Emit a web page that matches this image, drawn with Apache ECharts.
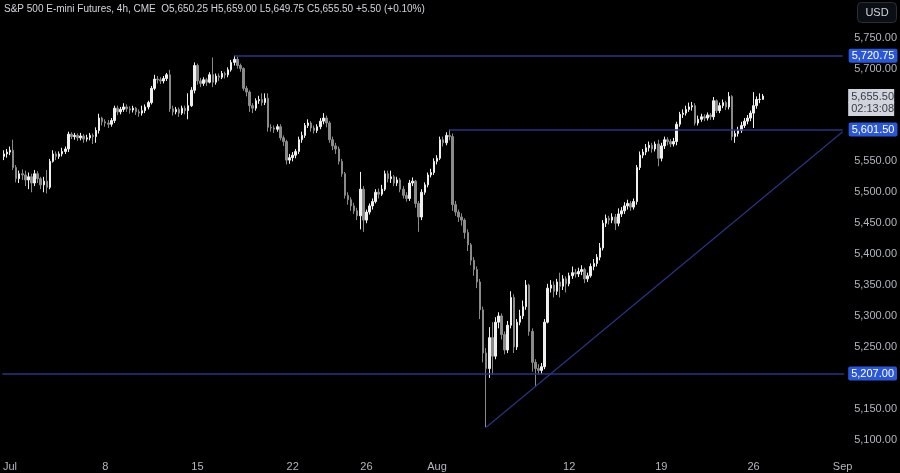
<!DOCTYPE html>
<html>
<head>
<meta charset="utf-8">
<script src="https://cdn.jsdelivr.net/npm/echarts@6/dist/echarts.min.js"></script>
<style>
html,body{margin:0;padding:0;background:#000;}
#c{width:900px;height:473px;}
</style>
</head>
<body>
<div id="c"></div>
<script>
// ---- data (4h candles, [open, close, low, high]) ----
const titleText = 'S&P 500 E-mini Futures, 4h, CME  O5,650.25 H5,659.00 L5,649.75 C5,655.50 +5.50 (+0.10%)';
const slotCount = 274;
const tickIndex = [2, 33, 63, 94, 118, 141, 184, 214, 244, 273];
const tickText = ['Jul', '8', '15', '22', '26', 'Aug', '12', '19', '26', 'Sep'];
const priceTicks = [5100, 5150, 5250, 5300, 5350, 5400, 5450, 5500, 5550, 5700, 5750];
const resistanceHigh = 5720.75;
const resistanceMid = 5601.5;
const supportLow = 5207;
const highStartIndex = 75;
const midStartIndex = 145;
const trendStart = [157, 5120];
const trendEnd = [273, 5598];
const lastPrice = 5655.5;
const countdown = '02:13:08';

const candlesJuly = [
[5558,5562,5552,5568],[5562,5565,5556,5570],[5565,5568,5560,5574],[5568,5540,5536,5585],
[5540,5522,5516,5544],[5522,5530,5515,5535],[5530,5528,5520,5537],[5528,5520,5510,5535],
[5520,5525,5505,5532],[5525,5515,5500,5530],[5515,5530,5510,5536],[5530,5522,5515,5534],
[5522,5512,5505,5525],[5512,5518,5500,5525],[5518,5508,5498,5536],[5508,5550,5505,5554],
[5550,5562,5548,5568],[5562,5558,5552,5566],[5558,5562,5554,5566],[5562,5566,5558,5572],
[5566,5570,5562,5574],[5570,5594,5565,5598],[5594,5590,5586,5597],[5590,5592,5585,5596],
[5592,5588,5583,5595],[5588,5591,5584,5596],[5591,5586,5580,5594],[5586,5588,5582,5593],
[5588,5592,5584,5596],[5592,5590,5578,5595],[5590,5600,5580,5605],[5600,5620,5595,5627],
[5620,5614,5608,5622],[5614,5612,5606,5618],[5612,5610,5604,5617],[5610,5616,5606,5620],
[5616,5636,5612,5640],[5636,5630,5625,5640],[5630,5634,5626,5638],[5634,5638,5630,5644],
[5638,5635,5630,5642],[5635,5633,5627,5639],[5633,5636,5629,5640],[5636,5630,5625,5638],
[5630,5628,5622,5634],[5628,5632,5624,5640],[5632,5638,5628,5642],[5638,5645,5634,5648],
[5645,5668,5642,5672],[5668,5683,5665,5690],[5683,5682,5676,5688],[5682,5680,5675,5686],
[5680,5684,5676,5688],[5684,5690,5680,5693],[5690,5635,5630,5698],[5635,5630,5624,5640],
[5630,5634,5626,5638],[5634,5628,5622,5637],[5628,5636,5625,5640],[5636,5632,5626,5640],
[5632,5640,5618,5660],[5640,5665,5638,5670],[5665,5705,5660,5710],[5705,5680,5674,5708],
[5680,5676,5670,5685],[5676,5682,5672,5686],[5682,5678,5672,5685],[5678,5690,5676,5694],
[5690,5678,5670,5718],[5678,5688,5674,5692],[5688,5686,5680,5692],[5686,5692,5683,5696],
[5692,5690,5684,5695],[5690,5698,5686,5702],[5698,5710,5695,5714],[5710,5715,5705,5720.75],
[5715,5705,5700,5719],[5705,5700,5695,5708],[5700,5668,5664,5702],[5668,5662,5655,5672],
[5662,5640,5630,5665],[5640,5636,5628,5644],[5636,5648,5632,5652],[5648,5650,5643,5656],
[5650,5645,5640,5660],[5645,5652,5641,5660],[5652,5605,5598,5660],[5605,5604,5598,5610],
[5604,5602,5596,5608],[5602,5606,5598,5610],[5606,5588,5584,5610],[5588,5582,5575,5592],
[5582,5552,5545,5585],[5552,5556,5546,5562],[5556,5560,5550,5565],[5560,5566,5555,5570],
[5566,5585,5562,5590],[5585,5592,5580,5598],[5592,5608,5588,5612],[5608,5612,5604,5618],
[5612,5604,5598,5615],[5604,5600,5595,5608],[5600,5606,5596,5610],[5606,5615,5602,5620],
[5615,5620,5610,5628],[5620,5612,5605,5624],[5612,5585,5580,5615],[5585,5575,5568,5590],
[5575,5570,5562,5580],[5570,5550,5545,5574],[5550,5530,5525,5554],[5530,5495,5490,5533],
[5495,5488,5480,5500],[5488,5478,5470,5492],[5478,5470,5465,5483],[5470,5462,5455,5475],
[5462,5505,5440,5533],[5505,5455,5436,5510],[5455,5468,5450,5472],[5468,5478,5464,5482],
[5478,5485,5472,5490],[5485,5500,5482,5505],[5500,5497,5490,5506],[5497,5505,5494,5512],
[5505,5530,5502,5535],[5530,5522,5516,5535],[5522,5525,5515,5535],[5525,5515,5510,5528],
[5515,5520,5510,5525],[5520,5505,5500,5523],[5505,5495,5490,5510],[5495,5490,5485,5500],
[5490,5515,5486,5520],[5515,5518,5510,5524],[5518,5482,5475,5520],[5482,5460,5436,5486],
[5460,5500,5455,5505],[5500,5512,5496,5516],[5512,5528,5508,5532],[5528,5532,5524,5538],
[5532,5550,5528,5555]
];
const candlesAugust = [
[5550,5555,5545,5560],[5555,5585,5552,5590],[5585,5580,5574,5590],[5580,5592,5576,5597],
[5592,5590,5584,5601.5],[5590,5480,5470,5595],[5480,5468,5462,5486],[5468,5460,5452,5472],
[5460,5455,5446,5466],[5455,5435,5425,5458],[5435,5415,5405,5440],[5415,5390,5382,5418],
[5390,5375,5365,5395],[5375,5355,5345,5380],[5355,5310,5295,5360],[5310,5240,5225,5315],
[5240,5215,5120,5248],[5215,5265,5200,5282],[5265,5235,5205,5290],[5235,5290,5230,5298],
[5290,5300,5280,5306],[5300,5270,5262,5304],[5270,5245,5238,5275],[5245,5285,5240,5292],
[5285,5330,5280,5340],[5330,5250,5240,5335],[5250,5290,5245,5295],[5290,5300,5285,5310],
[5300,5315,5295,5325],[5315,5350,5310,5358],[5350,5275,5268,5352],[5275,5225,5210,5280],
[5225,5215,5185,5230],[5215,5212,5205,5222],[5212,5218,5206,5224],[5218,5290,5214,5295],
[5290,5345,5288,5352],[5345,5350,5338,5358],[5350,5340,5330,5356],[5340,5355,5334,5360],
[5355,5348,5330,5370],[5348,5360,5342,5366],[5360,5352,5338,5364],[5352,5365,5348,5370],
[5365,5370,5360,5380],[5370,5368,5362,5376],[5368,5372,5363,5378],[5372,5375,5366,5382],
[5375,5360,5353,5378],[5360,5365,5355,5370],[5365,5380,5362,5385],[5380,5385,5374,5392],
[5385,5395,5380,5400],[5395,5410,5390,5418],[5410,5450,5406,5455],[5450,5458,5444,5464],
[5458,5455,5448,5462],[5455,5460,5450,5466],[5460,5450,5439,5465],[5450,5465,5445,5474],
[5465,5470,5460,5476],[5470,5478,5465,5484],[5478,5482,5472,5488],[5482,5476,5470,5486],
[5476,5485,5472,5490],[5485,5540,5480,5544],[5540,5560,5536,5566],[5560,5565,5555,5570],
[5565,5572,5560,5578],[5572,5576,5566,5582],[5576,5570,5564,5580],[5570,5578,5566,5582],
[5578,5555,5542,5585],[5555,5575,5550,5580],[5575,5585,5570,5590],[5585,5582,5576,5589],
[5582,5578,5573,5586],[5578,5582,5574,5588],[5582,5610,5576,5614],[5610,5626,5606,5630],
[5626,5628,5620,5634],[5628,5634,5624,5640],[5634,5638,5630,5645],[5638,5640,5632,5646],
[5640,5612,5608,5644],[5612,5618,5608,5624],[5618,5622,5614,5627],[5622,5620,5615,5626],
[5620,5625,5616,5629],[5625,5622,5617,5628],[5622,5648,5617,5654],[5648,5632,5628,5650],
[5632,5640,5628,5645],[5640,5645,5636,5650],[5645,5638,5633,5648],[5638,5655,5634,5662],
[5655,5590,5584,5657],[5590,5595,5580,5600],[5595,5600,5590,5606],[5600,5608,5596,5614],
[5608,5615,5604,5620],[5615,5620,5610,5625],[5620,5628,5615,5632],[5628,5640,5604,5662],
[5640,5650,5635,5655],[5650,5650.25,5644,5660],[5650.25,5655.5,5649.75,5659]
];

// ---- build ----
const candles = candlesJuly.concat(candlesAugust);
const categories = [];
for (let i = 0; i < slotCount; i++) categories.push('s' + i);
const tickMap = {};
tickIndex.forEach((k, j) => { tickMap[k] = tickText[j]; });
const fmt = v => Number(v).toLocaleString('en-US', {minimumFractionDigits: 2, maximumFractionDigits: 2});

const LINE = '#2a3484';
const BLUE = '#2b57d4';
const TXT = '#b2b5be';
const FONT = 'Liberation Sans, Arial, sans-serif';

const lineStyle = () => ({color: LINE, width: 1.5, type: 'solid', opacity: 1});
const blueLabel = (value, dist) => ({
  show: true, position: 'end', distance: dist,
  formatter: fmt(value),
  color: '#ffffff', backgroundColor: BLUE, padding: [2, 3, 1, 3],
  fontSize: 11, fontFamily: FONT, borderRadius: 2
});

const chart = echarts.init(document.getElementById('c'), null, {renderer: 'canvas'});
chart.setOption({
  backgroundColor: '#000000',
  animation: false,
  title: {
    text: titleText, left: 4, top: 4, padding: 0,
    textStyle: {color: '#d1d4dc', fontSize: 10, fontWeight: 'normal', fontFamily: FONT}
  },
  grid: {left: 0, right: 52, top: 0, bottom: 18, containLabel: false},
  xAxis: {
    type: 'category', data: categories, boundaryGap: true,
    axisLine: {show: false}, axisTick: {show: false}, splitLine: {show: false},
    axisLabel: {
      interval: 0, hideOverlap: false, margin: 6,
      color: TXT, fontSize: 11, fontFamily: FONT,
      formatter: (v, idx) => tickMap[idx] || ''
    }
  },
  yAxis: {
    type: 'value', position: 'right', min: 5075.23, max: 5810.88, scale: true,
    axisLine: {show: false}, axisTick: {show: false}, splitLine: {show: false},
    axisLabel: {
      customValues: priceTicks, margin: 10, color: TXT, fontSize: 11, fontFamily: FONT,
      formatter: v => fmt(v)
    }
  },
  graphic: [
    {type: 'rect', shape: {x: 857.5, y: 2.5, width: 39, height: 20, r: 4},
     style: {fill: '#0c0e15', stroke: '#2a2e39', lineWidth: 1}, z: 10},
    {type: 'text', style: {text: 'USD', x: 877, y: 13, align: 'center', verticalAlign: 'middle',
      fill: '#d1d4dc', fontSize: 11, fontFamily: FONT}, z: 11}
  ],
  series: [{
    type: 'candlestick',
    data: candles,
    barWidth: 2,
    itemStyle: {
      color: '#f0f0f0', color0: '#8a8a8a',
      borderColor: '#f0f0f0', borderColor0: '#8a8a8a', borderWidth: 1
    },
    markLine: {
      silent: true, symbol: ['none', 'none'], animation: false,
      lineStyle: lineStyle(),
      data: [
        [{coord: [highStartIndex, resistanceHigh], lineStyle: lineStyle(), label: blueLabel(resistanceHigh, 6)},
         {coord: [slotCount - 1, resistanceHigh]}],
        [{coord: [midStartIndex, resistanceMid], lineStyle: lineStyle(), label: blueLabel(resistanceMid, 6)},
         {coord: [slotCount - 1, resistanceMid]}],
        {yAxis: supportLow, lineStyle: lineStyle(), label: blueLabel(supportLow, 4)},
        [{coord: trendStart, lineStyle: Object.assign(lineStyle(), {width: 1.2}), label: {show: false}}, {coord: trendEnd}],
        {yAxis: lastPrice, lineStyle: {color: 'rgba(0,0,0,0)', width: 0},
         label: {
           show: true, position: 'end', distance: 4,
           formatter: '{s|}\n{p|' + fmt(lastPrice) + '}\n{t|' + countdown + '}',
           rich: {
             s: {height: 13, lineHeight: 13},
             p: {backgroundColor: '#d1d4dc', color: '#363a45', width: 40, height: 13, lineHeight: 13,
                 padding: [1, 3, 0, 3], fontSize: 11, fontFamily: FONT, align: 'left'},
             t: {backgroundColor: '#d1d4dc', color: '#363a45', width: 40, height: 13, lineHeight: 13,
                 padding: [0, 3, 1, 3], fontSize: 11, fontFamily: FONT, align: 'left'}
           }
         }}
      ]
    }
  }]
});
</script>
</body>
</html>
